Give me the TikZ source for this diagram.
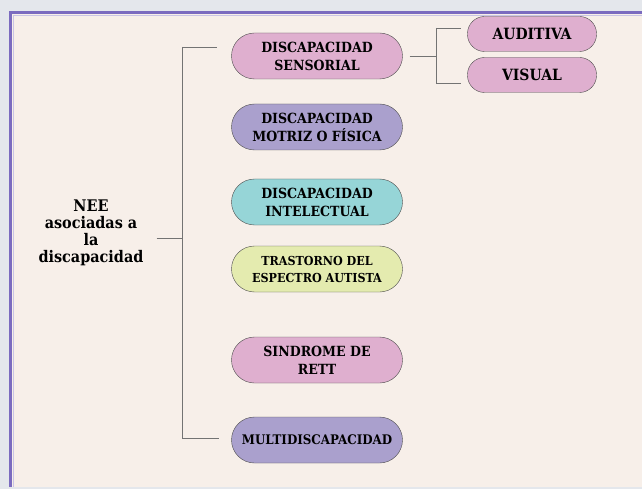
\documentclass[tikz,border=0pt]{standalone}
\usepackage{fontspec}
\setmainfont{DejaVu Serif Condensed}
\usetikzlibrary{positioning}

\begin{document}
\begin{tikzpicture}[x=1pt,y=-1pt,
		pill/.style={draw=black!70,rounded corners=23pt,minimum width=171pt,minimum height=46pt,align=center,inner sep=2pt,font=\bfseries\fontsize{14}{18}\selectfont},
		small pill/.style={pill,rounded corners=17pt,minimum width=129pt,minimum height=35pt,font=\bfseries\fontsize{15.5}{17}\selectfont},
		branch/.style={draw=black!55,line width=0.8pt}]
	\definecolor{framegray}{HTML}{E4E7EC}
	\definecolor{cream}{HTML}{F7EFE9}
	\definecolor{framepurple}{HTML}{7B6BBF}
	\definecolor{pinkfill}{HTML}{DFAFCF}
	\definecolor{purplefill}{HTML}{AAA0CD}
	\definecolor{tealfill}{HTML}{96D5D7}
	\definecolor{limefill}{HTML}{E4EBAF}
	
	% frame
	\useasboundingbox (0,0) rectangle (642,489);
	\fill[framegray] (0,0) rectangle (642,489);
	\fill[cream] (9,11) rectangle (642,487);
	\draw[framepurple!40,line width=1.2pt] (13.8,487) -- (13.8,15.8) -- (642,15.8);
	\draw[framepurple,line width=3pt] (10.5,487) -- (10.5,12.5) -- (642,12.5);
	
	% nodes
	\node[align=center,inner sep=0pt,font=\bfseries\fontsize{16}{17}\selectfont] (root) at (91,233) {NEE\\asociadas a\\la\\discapacidad};
	
	\node[pill,fill=pinkfill] (sens) at (317,56) {DISCAPACIDAD\\SENSORIAL};
	\node[pill,fill=purplefill] (motriz) at (317,127) {DISCAPACIDAD\\MOTRIZ O FÍSICA};
	\node[pill,fill=tealfill] (intel) at (317,202) {DISCAPACIDAD\\INTELECTUAL};
	\node[pill,fill=limefill,font=\bfseries\fontsize{12.4}{17}\selectfont] (tea) at (317,269) {TRASTORNO DEL\\ESPECTRO AUTISTA};
	\node[pill,fill=pinkfill] (rett) at (317,360) {SINDROME DE\\RETT};
	\node[pill,fill=purplefill,font=\bfseries\fontsize{13.2}{18}\selectfont] (multi) at (317,440) {MULTIDISCAPACIDAD};
	
	\node[small pill,fill=pinkfill] (aud) at (532,34) {AUDITIVA};
	\node[small pill,fill=pinkfill] (vis) at (532,75) {VISUAL};
	
	% connectors
	\coordinate (jtop) at (182,47);
	\coordinate (jmid) at (182,238);
	\coordinate (jbot) at (182,438);
	\coordinate (jsens) at (436,56);
	\coordinate (jaud) at (436,28);
	\coordinate (jvis) at (436,83);
	
	\draw[branch] (jtop) -- (jbot);
	\draw[branch,shorten <=13pt] (root.east |- jmid) -- (jmid);
	\draw[branch,shorten >=14pt] (jtop) -- (sens.west |- jtop);
	\draw[branch,shorten >=12pt] (jbot) -- (multi.west |- jbot);
	\draw[branch,shorten <=7pt] (sens.east) -- (jsens);
	\draw[branch] (jaud) -- (jvis);
	\draw[branch,shorten >=6pt] (jaud) -- (aud.west |- jaud);
	\draw[branch,shorten >=6pt] (jvis) -- (vis.west |- jvis);
\end{tikzpicture}
\end{document}
